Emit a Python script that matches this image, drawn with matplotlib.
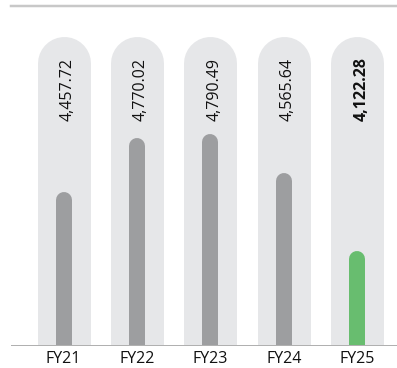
import matplotlib
matplotlib.use("Agg")
import matplotlib.pyplot as plt
from matplotlib.transforms import offset_copy

# Data
years = ["FY21", "FY22", "FY23", "FY24", "FY25"]
values = [4457.72, 4770.02, 4790.49, 4565.64, 4122.28]
labels = ["4,457.72", "4,770.02", "4,790.49", "4,565.64", "4,122.28"]
pill_max = 5350
y_min, y_max = 3585, 5522

plt.rcParams["font.family"] = ["Open Sans", "DejaVu Sans"]

DPI = 100
fig = plt.figure(figsize=(3.97, 3.68), dpi=DPI)
W, H = 397, 368
ax = fig.add_axes([11 / W, (H - 345) / H, 1 - 11 / W, (345 - 6) / H])

px = 72 / DPI  # points per pixel
pill_w = 53 * px
bar_w = 16 * px

ax.set_xlim(-0.715, 4.54)
ax.set_ylim(y_min, y_max)

pill_trans = offset_copy(ax.transData, fig=fig, y=-pill_w / 2, units="points")
bar_trans = offset_copy(ax.transData, fig=fig, y=-bar_w / 2, units="points")
text_trans = offset_copy(ax.get_xaxis_transform(), fig=fig, x=4 * px, units="points")

for i, (v, lab) in enumerate(zip(values, labels)):
    last = i == len(values) - 1
    ax.plot([i, i], [y_min - 500, pill_max], color="#e6e7e9", lw=pill_w,
            solid_capstyle="round", transform=pill_trans, zorder=1)
    ax.plot([i, i], [y_min - 500, v], color="#68bd6f" if last else "#9d9ea0",
            lw=bar_w, solid_capstyle="round", transform=bar_trans, zorder=2)
    ax.text(i, 0.661, lab, rotation=90, ha="center", va="bottom",
            fontsize=11.5, color="#111111", fontweight="bold" if last else "normal",
            transform=text_trans, zorder=3)

ax.set_xticks(range(len(years)), years)
ax.tick_params(axis="x", length=0, pad=4.5, labelsize=11.5, labelcolor="#111111")
ax.set_yticks([])

for side in ["left", "right"]:
    ax.spines[side].set_visible(False)
ax.spines["top"].set_color("#c8c8c8")
ax.spines["top"].set_linewidth(2.5 * px)
ax.spines["bottom"].set_color("#b0b0b0")
ax.spines["bottom"].set_linewidth(1 * px)

fig.savefig("out.png", dpi=DPI)
